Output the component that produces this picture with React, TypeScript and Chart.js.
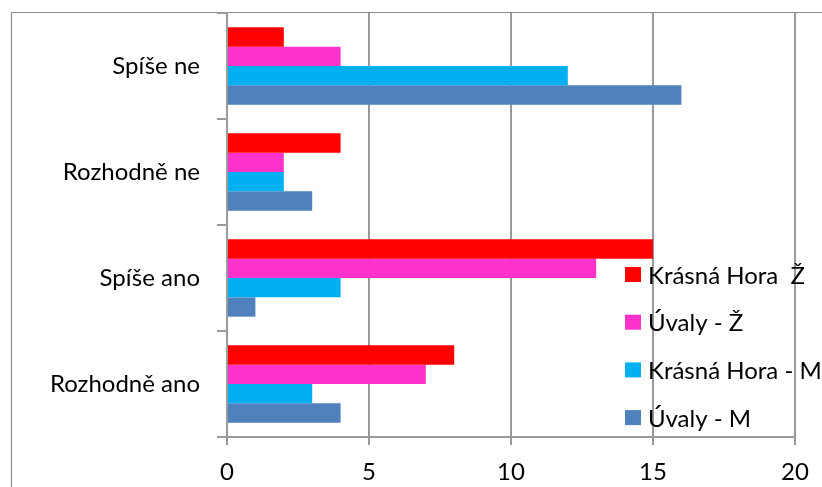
import React, { useEffect, useRef } from "react";
import { Chart, registerables } from "chart.js";

Chart.register(...registerables);

const categories = ["Spíše ne", "Rozhodně ne", "Spíše ano", "Rozhodně ano"];
const seriesNames = ["Krásná Hora  Ž", "Úvaly - Ž", "Krásná Hora - M", "Úvaly - M"];
const krasnaHoraZ = [2, 4, 15, 8];
const uvalyZ = [4, 2, 13, 7];
const krasnaHoraM = [12, 2, 4, 3];
const uvalyM = [16, 3, 1, 4];
const seriesColors = ["#FF0000", "#FF33CC", "#00B0F0", "#4F81BD"];
const xTicks = [0, 5, 10, 15, 20];

const FONT = "Lato, 'Open Sans', 'DejaVu Sans', sans-serif";

const framePlugin = {
  id: "frame",
  beforeDraw(chart: any) {
    const ctx = chart.ctx;
    ctx.save();
    ctx.strokeStyle = "#8c8c8c";
    ctx.lineWidth = 1.2;
    ctx.beginPath();
    ctx.moveTo(11.5, chart.height);
    ctx.lineTo(11.5, 12.5);
    ctx.lineTo(chart.width, 12.5);
    ctx.stroke();
    ctx.restore();
  },
};

const legendPlugin = {
  id: "insideLegend",
  afterDraw(chart: any) {
    const ctx = chart.ctx;
    ctx.save();
    ctx.font = `24px ${FONT}`;
    ctx.textBaseline = "middle";
    ctx.textAlign = "left";
    chart.data.datasets.forEach((ds: any, i: number) => {
      const cy = 275 + i * 47.7;
      ctx.fillStyle = ds.backgroundColor;
      ctx.fillRect(625, cy - 8, 16, 15);
      ctx.fillStyle = "#000";
      ctx.fillText(ds.label, 648, cy + 1);
    });
    ctx.restore();
  },
};

export default function App() {
  const ref = useRef<HTMLCanvasElement>(null);
  useEffect(() => {
    document.body.style.margin = "0";
    const seriesData = [krasnaHoraZ, uvalyZ, krasnaHoraM, uvalyM];
    const chart = new Chart(ref.current!, {
      type: "bar",
      data: {
        labels: categories,
        datasets: seriesNames.map((name, i) => ({
          label: name,
          data: seriesData[i],
          backgroundColor: seriesColors[i],
          borderWidth: 0,
          categoryPercentage: 0.73,
          barPercentage: 1,
        })),
      },
      options: {
        indexAxis: "y",
        animation: false,
        responsive: true,
        maintainAspectRatio: false,
        layout: { padding: { top: 13, right: 27, left: 0, bottom: 0 } },
        plugins: {
          legend: { display: false },
          tooltip: { enabled: false },
          title: { display: false },
        },
        scales: {
          x: {
            min: xTicks[0],
            max: xTicks[xTicks.length - 1],
            afterBuildTicks: (scale: any) => {
              scale.ticks = xTicks.map((v) => ({ value: v }));
            },
            afterFit: (scale: any) => {
              scale.height = 50;
              scale.paddingLeft = 0;
              scale.paddingRight = 0;
            },
            ticks: {
              color: "#000",
              font: { size: 24, family: FONT },
              padding: 13,
              maxRotation: 0,
            },
            grid: {
              color: "#9a9a9a",
              lineWidth: 2,
              tickLength: 8,
              drawTicks: true,
            },
            border: { display: true, color: "#9a9a9a", width: 2 },
          },
          y: {
            afterFit: (scale: any) => {
              scale.width = 227;
              scale.paddingTop = 0;
              scale.paddingBottom = 0;
            },
            ticks: {
              color: "#000",
              font: { size: 24, family: FONT },
              padding: 17,
            },
            grid: {
              offset: true,
              drawOnChartArea: false,
              drawTicks: true,
              tickLength: 10,
              color: "#9a9a9a",
              lineWidth: 2,
            },
            border: { display: true, color: "#9a9a9a", width: 2 },
          },
        },
      },
      plugins: [framePlugin, legendPlugin],
    } as any);
    return () => chart.destroy();
  }, []);
  return (
    <div style={{ width: 822, height: 487, position: "relative" }}>
      <canvas ref={ref} />
    </div>
  );
}
